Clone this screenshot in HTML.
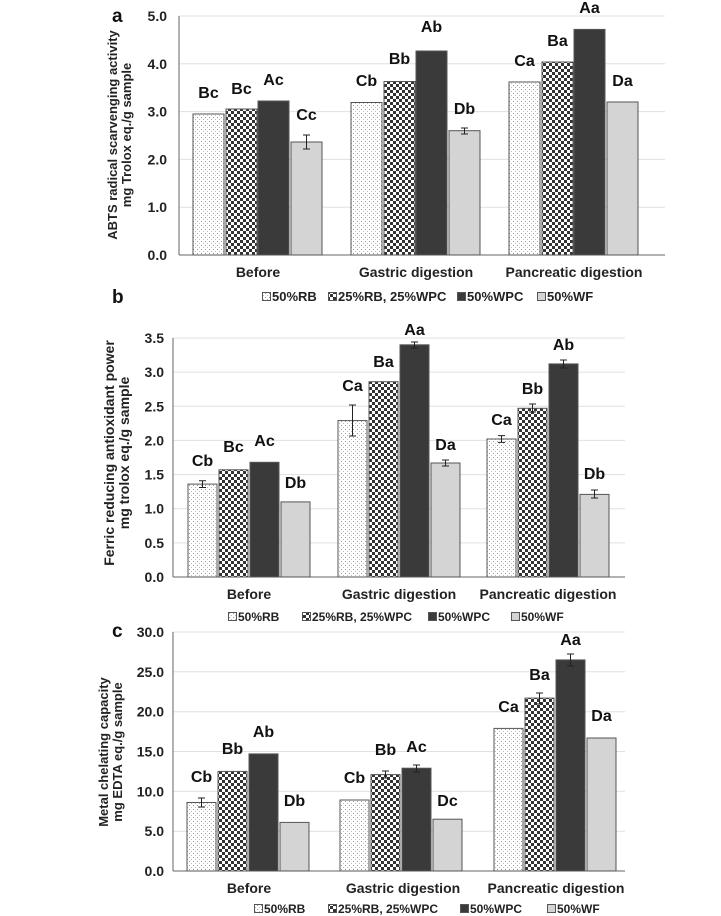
<!DOCTYPE html>
<html><head><style>
body{margin:0;background:#fff}
svg{display:block;font-family:"Liberation Sans",Arial,sans-serif;font-weight:bold}
</style></head><body>
<svg width="721" height="916" viewBox="0 0 721 916" xmlns="http://www.w3.org/2000/svg">
<defs>
<pattern id="dot" width="4" height="4" patternUnits="userSpaceOnUse"><rect width="4" height="4" fill="#fff"/><rect x="1" y="1" width="1" height="1" fill="#999"/><rect x="3" y="3" width="1" height="1" fill="#bbb"/></pattern>
<pattern id="chk" width="6" height="6" patternUnits="userSpaceOnUse"><rect width="6" height="6" fill="#fff"/><rect width="3" height="3" fill="#333"/><rect x="3" y="3" width="3" height="3" fill="#333"/></pattern>
</defs>
<g stroke="#e0e0e0" stroke-width="1">
<line x1="179" x2="665" y1="16" y2="16"/><line x1="179" x2="665" y1="63.8" y2="63.8"/><line x1="179" x2="665" y1="111.6" y2="111.6"/><line x1="179" x2="665" y1="159.4" y2="159.4"/><line x1="179" x2="665" y1="207.2" y2="207.2"/>
<line x1="173" x2="625" y1="338" y2="338"/><line x1="173" x2="625" y1="372.1" y2="372.1"/><line x1="173" x2="625" y1="406.3" y2="406.3"/><line x1="173" x2="625" y1="440.4" y2="440.4"/><line x1="173" x2="625" y1="474.6" y2="474.6"/><line x1="173" x2="625" y1="508.7" y2="508.7"/><line x1="173" x2="625" y1="542.9" y2="542.9"/>
<line x1="173" x2="625" y1="632" y2="632"/><line x1="173" x2="625" y1="671.8" y2="671.8"/><line x1="173" x2="625" y1="711.7" y2="711.7"/><line x1="173" x2="625" y1="751.5" y2="751.5"/><line x1="173" x2="625" y1="791.3" y2="791.3"/><line x1="173" x2="625" y1="831.2" y2="831.2"/>
</g>
<g stroke="#666" stroke-width="1">
<line x1="179" x2="179" y1="16" y2="255"/><line x1="179" x2="665" y1="255" y2="255"/>
<line x1="173" x2="173" y1="338" y2="577"/><line x1="173" x2="625" y1="577" y2="577"/>
<line x1="173" x2="173" y1="632" y2="871"/><line x1="173" x2="625" y1="871" y2="871"/>
</g>
<g stroke="#555" stroke-width="1">
<rect x="193" y="114" width="31" height="141" fill="url(#dot)"/><rect x="226" y="109" width="31" height="146" fill="url(#chk)"/><rect x="258" y="101" width="31" height="154" fill="#3a3a3a"/><rect x="291" y="142" width="31" height="113" fill="#d4d4d4"/>
<rect x="351" y="102.5" width="31" height="152.5" fill="url(#dot)"/><rect x="384" y="81.5" width="31" height="173.5" fill="url(#chk)"/><rect x="416" y="51" width="31" height="204" fill="#3a3a3a"/><rect x="449" y="130.7" width="31" height="124.3" fill="#d4d4d4"/>
<rect x="509" y="82" width="31" height="173" fill="url(#dot)"/><rect x="542" y="62" width="31" height="193" fill="url(#chk)"/><rect x="574" y="29.4" width="31" height="225.6" fill="#3a3a3a"/><rect x="607" y="102" width="31" height="153" fill="#d4d4d4"/>
</g>
<g stroke="#555" stroke-width="1">
<rect x="188" y="484.1" width="29" height="92.9" fill="url(#dot)"/><rect x="219" y="469.8" width="29" height="107.2" fill="url(#chk)"/><rect x="250" y="462.3" width="29" height="114.7" fill="#3a3a3a"/><rect x="281" y="501.9" width="29" height="75.1" fill="#d4d4d4"/>
<rect x="338" y="420.6" width="29" height="156.4" fill="url(#dot)"/><rect x="369" y="381.7" width="29" height="195.3" fill="url(#chk)"/><rect x="400" y="344.8" width="29" height="232.2" fill="#3a3a3a"/><rect x="431" y="463" width="29" height="114" fill="#d4d4d4"/>
<rect x="487" y="439" width="29" height="138" fill="url(#dot)"/><rect x="518" y="408.3" width="29" height="168.7" fill="url(#chk)"/><rect x="549" y="363.9" width="29" height="213.1" fill="#3a3a3a"/><rect x="580" y="494.4" width="29" height="82.6" fill="#d4d4d4"/>
</g>
<g stroke="#555" stroke-width="1">
<rect x="187" y="802.5" width="29" height="68.5" fill="url(#dot)"/><rect x="218" y="771.4" width="29" height="99.6" fill="url(#chk)"/><rect x="249" y="753.9" width="29" height="117.1" fill="#3a3a3a"/><rect x="280" y="822.4" width="29" height="48.6" fill="#d4d4d4"/>
<rect x="340" y="800" width="29" height="71" fill="url(#dot)"/><rect x="371" y="774.6" width="29" height="96.4" fill="url(#chk)"/><rect x="402" y="768.2" width="29" height="102.8" fill="#3a3a3a"/><rect x="433" y="819.2" width="29" height="51.8" fill="#d4d4d4"/>
<rect x="494" y="728.4" width="29" height="142.6" fill="url(#dot)"/><rect x="525" y="698.1" width="29" height="172.9" fill="url(#chk)"/><rect x="556" y="659.9" width="29" height="211.1" fill="#3a3a3a"/><rect x="587" y="738" width="29" height="133" fill="#d4d4d4"/>
</g>
<g stroke="#222" stroke-width="1" fill="none">
<path d="M306.5 135v14M303 135h7M303 149h7"/>
<path d="M464.5 128v6M461 128h7M461 134h7"/>
<path d="M202.5 480.7v6.8M199 480.7h7M199 487.5h7"/>
<path d="M352.5 405v31M349 405h7M349 436h7"/>
<path d="M414.5 342v6M411 342h7M411 348h7"/>
<path d="M445.5 460v6M442 460h7M442 466h7"/>
<path d="M501.5 435.6v6.8M498 435.6h7M498 442.4h7"/>
<path d="M532.5 404v8M529 404h7M529 412h7"/>
<path d="M563.5 360v8M560 360h7M560 368h7"/>
<path d="M594.5 490v8M591 490h7M591 498h7"/>
<path d="M201.5 798v9M198 798h7M198 807h7"/>
<path d="M385.5 771v7M382 771h7M382 778h7"/>
<path d="M416.5 765v7M413 765h7M413 772h7"/>
<path d="M539.5 693v11M536 693h7M536 704h7"/>
<path d="M570.5 654v12M567 654h7M567 666h7"/>
</g>
<g font-size="14" text-anchor="end" fill="#222">
<text x="167" y="21">5.0</text><text x="167" y="68.8">4.0</text><text x="167" y="116.6">3.0</text><text x="167" y="164.4">2.0</text><text x="167" y="212.2">1.0</text><text x="167" y="260">0.0</text>
<text x="164" y="343">3.5</text><text x="164" y="377.1">3.0</text><text x="164" y="411.3">2.5</text><text x="164" y="445.4">2.0</text><text x="164" y="479.6">1.5</text><text x="164" y="513.7">1.0</text><text x="164" y="547.9">0.5</text><text x="164" y="582">0.0</text>
<text x="164" y="637">30.0</text><text x="164" y="676.8">25.0</text><text x="164" y="716.7">20.0</text><text x="164" y="756.5">15.0</text><text x="164" y="796.3">10.0</text><text x="164" y="836.2">5.0</text><text x="164" y="876">0.0</text>
</g>
<g font-size="19" fill="#111"><text x="112" y="22">a</text><text x="112" y="303">b</text><text x="112" y="637">c</text></g>
<g font-size="13" text-anchor="middle" fill="#222">
<text transform="translate(117,135) rotate(-90)">ABTS radical scarvenging activity</text><text transform="translate(131,135) rotate(-90)">mg Trolox eq./g sample</text>
<text transform="translate(108,752) rotate(-90)">Metal chelating capacity</text><text transform="translate(122,752) rotate(-90)">mg EDTA eq./g sample</text>
</g>
<g font-size="14" text-anchor="middle" fill="#222">
<text transform="translate(114,453) rotate(-90)">Ferric reducing antioxidant  power</text><text transform="translate(129,453) rotate(-90)">mg trolox eq./g sample</text>
</g>
<g font-size="14" text-anchor="middle" fill="#222">
<text x="258" y="277">Before</text><text x="416" y="277">Gastric digestion</text><text x="574" y="277">Pancreatic digestion</text>
<text x="249" y="599">Before</text><text x="399" y="599">Gastric digestion</text><text x="548" y="599">Pancreatic digestion</text>
<text x="249" y="893">Before</text><text x="403" y="893">Gastric digestion</text><text x="556" y="893">Pancreatic digestion</text>
</g>
<g font-size="16" text-anchor="middle" fill="#111">
<text x="208.5" y="98">Bc</text><text x="241.5" y="94">Bc</text><text x="273.5" y="85">Ac</text><text x="306.5" y="120">Cc</text>
<text x="366.5" y="86">Cb</text><text x="399.5" y="64">Bb</text><text x="431.5" y="32">Ab</text><text x="464.5" y="114">Db</text>
<text x="524.5" y="66">Ca</text><text x="557.5" y="46">Ba</text><text x="589.5" y="13">Aa</text><text x="622.5" y="86">Da</text>
<text x="202.5" y="466">Cb</text><text x="233.5" y="452">Bc</text><text x="264.5" y="446">Ac</text><text x="295.5" y="488">Db</text>
<text x="352.5" y="391">Ca</text><text x="383.5" y="367">Ba</text><text x="414.5" y="335">Aa</text><text x="445.5" y="450">Da</text>
<text x="501.5" y="425">Ca</text><text x="532.5" y="394">Bb</text><text x="563.5" y="350">Ab</text><text x="594.5" y="479">Db</text>
<text x="201.5" y="782">Cb</text><text x="232.5" y="754">Bb</text><text x="263.5" y="737">Ab</text><text x="294.5" y="806">Db</text>
<text x="354.5" y="783">Cb</text><text x="385.5" y="755">Bb</text><text x="416.5" y="752">Ac</text><text x="447.5" y="806">Dc</text>
<text x="508.5" y="712">Ca</text><text x="539.5" y="680">Ba</text><text x="570.5" y="645">Aa</text><text x="601.5" y="721">Da</text>
</g>
<g font-size="12" fill="#222" stroke="#555" stroke-width="1">
<rect x="262.5" y="292.5" width="8" height="8" fill="url(#dot)"/><rect x="328.5" y="292.5" width="8" height="8" fill="url(#chk)"/><rect x="457.5" y="292.5" width="8" height="8" fill="#3a3a3a"/><rect x="537.5" y="292.5" width="8" height="8" fill="#d4d4d4"/>
<rect x="228.5" y="612.5" width="8" height="8" fill="url(#dot)"/><rect x="302.5" y="612.5" width="8" height="8" fill="url(#chk)"/><rect x="428.5" y="612.5" width="8" height="8" fill="#3a3a3a"/><rect x="511.5" y="612.5" width="8" height="8" fill="#d4d4d4"/>
<rect x="254.5" y="904.5" width="8" height="8" fill="url(#dot)"/><rect x="328.5" y="904.5" width="8" height="8" fill="url(#chk)"/><rect x="460.5" y="904.5" width="8" height="8" fill="#3a3a3a"/><rect x="547.5" y="904.5" width="8" height="8" fill="#d4d4d4"/>
</g>
<g font-size="13" fill="#222">
<text x="272" y="301">50%RB</text><text x="338" y="301">25%RB, 25%WPC</text><text x="467" y="301">50%WPC</text><text x="547" y="301">50%WF</text>
</g>
<g font-size="12" fill="#222">
<text x="238" y="621">50%RB</text><text x="312" y="621">25%RB, 25%WPC</text><text x="438" y="621">50%WPC</text><text x="521" y="621">50%WF</text>
<text x="264" y="913">50%RB</text><text x="338" y="913">25%RB, 25%WPC</text><text x="470" y="913">50%WPC</text><text x="557" y="913">50%WF</text>
</g>
</svg>
</body></html>
